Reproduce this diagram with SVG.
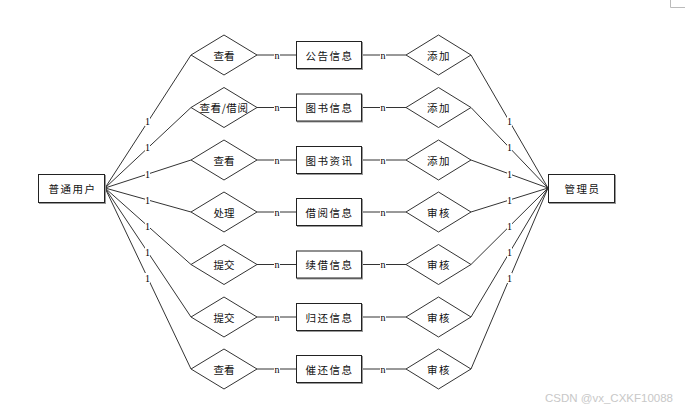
<svg xmlns="http://www.w3.org/2000/svg" width="685" height="410" viewBox="0 0 685 410">
<style>
.ln{stroke:#333;stroke-width:1;fill:none}
.sh{fill:#999;stroke:none}
.bx{fill:#fff;stroke:#222;stroke-width:1}
.dm{fill:#fff;stroke:#333;stroke-width:1}
.t{font-family:"Noto Sans CJK SC","Liberation Sans",sans-serif;font-size:10.5px;fill:#111;text-anchor:middle;dominant-baseline:central}
.tr{letter-spacing:1.5px}
.lb{font-family:"Liberation Serif",serif;font-size:10px;fill:#000;text-anchor:middle;dominant-baseline:central}
.lbg{fill:#fff;stroke:none}
.wm{font-family:"Liberation Sans",sans-serif;font-size:11.5px;fill:#c8c8c8}
</style>
<path d="M670.5 0V7.5H685" stroke="#bbb" stroke-width="1" fill="none"/>
<g id="connectors">
<path class="ln" d="M105 188L191 55M105 188L191 107.5M105 188L191 160M105 188L191 212M105 188L191 264.5M105 188L191 317M105 188L191 369"/>
<path class="ln" d="M548 188L471 55M548 188L471 107.5M548 188L471 160M548 188L471 212M548 188L471 264.5M548 188L471 317M548 188L471 369"/>
<path class="ln" d="M257 55H296M257 107.5H296M257 160H296M257 212H296M257 264.5H296M257 317H296M257 369H296"/>
<path class="ln" d="M362 55H406M362 107.5H406M362 160H406M362 212H406M362 264.5H406M362 317H406M362 369H406"/>
<g id="labels-left-1">
<rect class="lbg" x="145" y="116" width="5" height="10"/><text class="lb" x="147.5" y="121.5">1</text>
<rect class="lbg" x="145" y="142" width="5" height="10"/><text class="lb" x="147.5" y="147.5">1</text>
<rect class="lbg" x="145" y="169" width="5" height="10"/><text class="lb" x="147.5" y="174">1</text>
<rect class="lbg" x="145" y="195" width="5" height="10"/><text class="lb" x="147.5" y="200">1</text>
<rect class="lbg" x="145" y="221" width="5" height="10"/><text class="lb" x="147.5" y="226.5">1</text>
<rect class="lbg" x="145" y="247" width="5" height="10"/><text class="lb" x="147.5" y="252.5">1</text>
<rect class="lbg" x="145" y="273" width="5" height="10"/><text class="lb" x="147.5" y="278.5">1</text>
</g>
<g id="labels-right-1">
<rect class="lbg" x="507" y="116" width="5" height="10"/><text class="lb" x="509.5" y="121.5">1</text>
<rect class="lbg" x="507" y="142" width="5" height="10"/><text class="lb" x="509.5" y="147.5">1</text>
<rect class="lbg" x="507" y="169" width="5" height="10"/><text class="lb" x="509.5" y="174">1</text>
<rect class="lbg" x="507" y="195" width="5" height="10"/><text class="lb" x="509.5" y="200">1</text>
<rect class="lbg" x="507" y="221" width="5" height="10"/><text class="lb" x="509.5" y="226.5">1</text>
<rect class="lbg" x="507" y="247" width="5" height="10"/><text class="lb" x="509.5" y="252.5">1</text>
<rect class="lbg" x="507" y="273" width="5" height="10"/><text class="lb" x="509.5" y="278.5">1</text>
</g>
<g id="labels-n">
<rect class="lbg" x="274" y="51" width="6" height="8"/><text class="lb" x="277" y="55">n</text>
<rect class="lbg" x="274" y="103.5" width="6" height="8"/><text class="lb" x="277" y="107.5">n</text>
<rect class="lbg" x="274" y="156" width="6" height="8"/><text class="lb" x="277" y="160">n</text>
<rect class="lbg" x="274" y="208" width="6" height="8"/><text class="lb" x="277" y="212">n</text>
<rect class="lbg" x="274" y="260.5" width="6" height="8"/><text class="lb" x="277" y="264.5">n</text>
<rect class="lbg" x="274" y="313" width="6" height="8"/><text class="lb" x="277" y="317">n</text>
<rect class="lbg" x="274" y="365" width="6" height="8"/><text class="lb" x="277" y="369">n</text>
<rect class="lbg" x="380" y="51" width="6" height="8"/><text class="lb" x="383" y="55">n</text>
<rect class="lbg" x="380" y="103.5" width="6" height="8"/><text class="lb" x="383" y="107.5">n</text>
<rect class="lbg" x="380" y="156" width="6" height="8"/><text class="lb" x="383" y="160">n</text>
<rect class="lbg" x="380" y="208" width="6" height="8"/><text class="lb" x="383" y="212">n</text>
<rect class="lbg" x="380" y="260.5" width="6" height="8"/><text class="lb" x="383" y="264.5">n</text>
<rect class="lbg" x="380" y="313" width="6" height="8"/><text class="lb" x="383" y="317">n</text>
<rect class="lbg" x="380" y="365" width="6" height="8"/><text class="lb" x="383" y="369">n</text>
</g>
</g>
<g id="user"><rect class="sh" x="39" y="175" width="67" height="29"/><rect class="bx" x="38.5" y="174.5" width="66" height="28"/><text class="t tr" x="72.5" y="188.5">普通用户</text></g>
<g id="admin"><rect class="sh" x="549" y="175" width="67" height="29"/><rect class="bx" x="548.5" y="174.5" width="66" height="28"/><text class="t tr" x="582.5" y="188.5">管理员</text></g>
<g id="d1"><path class="dm" d="M191 55L224 35L257 55L224 75Z"/><text class="t" x="224" y="55">查看</text></g>
<g id="d2"><path class="dm" d="M191 107.5L224 87.5L257 107.5L224 127.5Z"/><text class="t" x="224" y="107.5" letter-spacing="0.6">查看/借阅</text></g>
<g id="d3"><path class="dm" d="M191 160L224 140L257 160L224 180Z"/><text class="t" x="224" y="160">查看</text></g>
<g id="d4"><path class="dm" d="M191 212L224 192L257 212L224 232Z"/><text class="t" x="224" y="212">处理</text></g>
<g id="d5"><path class="dm" d="M191 264.5L224 244.5L257 264.5L224 284.5Z"/><text class="t" x="224" y="264.5">提交</text></g>
<g id="d6"><path class="dm" d="M191 317L224 297L257 317L224 337Z"/><text class="t" x="224" y="317">提交</text></g>
<g id="d7"><path class="dm" d="M191 369L224 349L257 369L224 389Z"/><text class="t" x="224" y="369">查看</text></g>
<g id="e1"><rect class="sh" x="297" y="42" width="66" height="28"/><rect class="bx" x="296.5" y="41.5" width="65" height="27"/><text class="t tr" x="329.5" y="55">公告信息</text></g>
<g id="e2"><rect class="sh" x="297" y="94.5" width="66" height="28"/><rect class="bx" x="296.5" y="94" width="65" height="27"/><text class="t tr" x="329.5" y="107.5">图书信息</text></g>
<g id="e3"><rect class="sh" x="297" y="147" width="66" height="28"/><rect class="bx" x="296.5" y="146.5" width="65" height="27"/><text class="t tr" x="329.5" y="160">图书资讯</text></g>
<g id="e4"><rect class="sh" x="297" y="199" width="66" height="28"/><rect class="bx" x="296.5" y="198.5" width="65" height="27"/><text class="t tr" x="329.5" y="212">借阅信息</text></g>
<g id="e5"><rect class="sh" x="297" y="251.5" width="66" height="28"/><rect class="bx" x="296.5" y="251" width="65" height="27"/><text class="t tr" x="329.5" y="264.5">续借信息</text></g>
<g id="e6"><rect class="sh" x="297" y="304" width="66" height="28"/><rect class="bx" x="296.5" y="303.5" width="65" height="27"/><text class="t tr" x="329.5" y="317">归还信息</text></g>
<g id="e7"><rect class="sh" x="297" y="356" width="66" height="28"/><rect class="bx" x="296.5" y="355.5" width="65" height="27"/><text class="t tr" x="329.5" y="369">催还信息</text></g>
<g id="r1"><path class="dm" d="M406 55L438.5 35L471 55L438.5 75Z"/><text class="t tr" x="439" y="55">添加</text></g>
<g id="r2"><path class="dm" d="M406 107.5L438.5 87.5L471 107.5L438.5 127.5Z"/><text class="t tr" x="439" y="107.5">添加</text></g>
<g id="r3"><path class="dm" d="M406 160L438.5 140L471 160L438.5 180Z"/><text class="t tr" x="439" y="160">添加</text></g>
<g id="r4"><path class="dm" d="M406 212L438.5 192L471 212L438.5 232Z"/><text class="t tr" x="439" y="212">审核</text></g>
<g id="r5"><path class="dm" d="M406 264.5L438.5 244.5L471 264.5L438.5 284.5Z"/><text class="t tr" x="439" y="264.5">审核</text></g>
<g id="r6"><path class="dm" d="M406 317L438.5 297L471 317L438.5 337Z"/><text class="t tr" x="439" y="317">审核</text></g>
<g id="r7"><path class="dm" d="M406 369L438.5 349L471 369L438.5 389Z"/><text class="t tr" x="439" y="369">审核</text></g>
<text class="wm" x="545" y="402">CSDN @vx_CXKF10088</text>
</svg>
